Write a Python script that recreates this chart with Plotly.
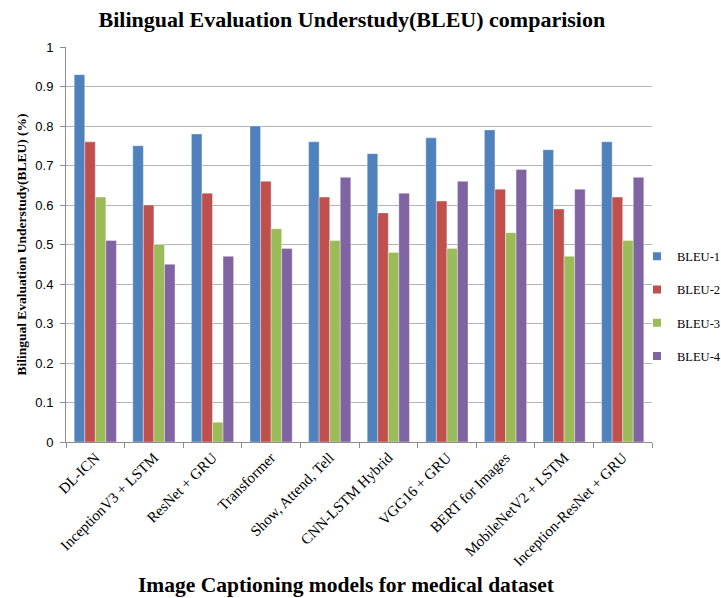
import plotly.graph_objects as go

models = [
    "DL-ICN", "InceptionV3 + LSTM", "ResNet + GRU", "Transformer",
    "Show, Attend, Tell", "CNN-LSTM Hybrid", "VGG16 + GRU",
    "BERT for Images", "MobileNetV2 + LSTM", "Inception-ResNet + GRU",
]
bleu1 = [0.93, 0.75, 0.78, 0.80, 0.76, 0.73, 0.77, 0.79, 0.74, 0.76]
bleu2 = [0.76, 0.60, 0.63, 0.66, 0.62, 0.58, 0.61, 0.64, 0.59, 0.62]
bleu3 = [0.62, 0.50, 0.05, 0.54, 0.51, 0.48, 0.49, 0.53, 0.47, 0.51]
bleu4 = [0.51, 0.45, 0.47, 0.49, 0.67, 0.63, 0.66, 0.69, 0.64, 0.67]
y_ticks = [0, 0.1, 0.2, 0.3, 0.4, 0.5, 0.6, 0.7, 0.8, 0.9, 1]

series = [
    ("BLEU-1", bleu1, "#4F81BD"),
    ("BLEU-2", bleu2, "#C0504D"),
    ("BLEU-3", bleu3, "#9BBB59"),
    ("BLEU-4", bleu4, "#8064A2"),
]

SERIF = "Liberation Serif, Times New Roman, serif"
SANS = "Liberation Sans, Arial, sans-serif"

fig = go.Figure()
for name, vals, color in series:
    fig.add_trace(go.Bar(
        name=name, x=models, y=vals, legendgroup=name, showlegend=False,
        marker=dict(color=color, line=dict(color="rgba(255,255,255,0.6)", width=0.6)),
    ))
    # compact square key for the legend
    fig.add_trace(go.Scatter(
        name=name, x=[None], y=[None], mode="markers", legendgroup=name,
        marker=dict(symbol="square", size=8, color=color),
    ))

fig.update_layout(
    width=721, height=598,
    paper_bgcolor="white", plot_bgcolor="white",
    margin=dict(l=66, r=69, t=47, b=156, autoexpand=False),
    barmode="group", bargap=0.28, bargroupgap=0,
    font=dict(family=SERIF, color="black"),
    title=dict(
        text="<b>Bilingual Evaluation Understudy(BLEU) comparision</b>",
        x=0.488, xanchor="center", y=0.968, yanchor="middle",
        font=dict(size=22, family=SERIF),
    ),
    legend=dict(
        x=0.9744, y=0.344, xanchor="left", yanchor="middle",
        font=dict(size=12.5, family=SERIF),
        traceorder="grouped", tracegroupgap=14,
        bgcolor="rgba(0,0,0,0)",
    ),
    showlegend=True,
    annotations=[dict(
        text="<b>Image Captioning models for medical dataset</b>",
        xref="paper", yref="paper", x=0.478, y=-0.362,
        xanchor="center", yanchor="middle", showarrow=False,
        font=dict(size=21.5, family=SERIF),
    )],
)

fig.update_xaxes(
    type="category", automargin=False,
    tickangle=-45,
    tickfont=dict(size=15, family=SERIF),
    ticks="outside", tickson="boundaries", ticklen=5, tickcolor="#8c8c8c",
    showline=True, linecolor="#8c8c8c", linewidth=1,
    showgrid=False,
)
fig.update_yaxes(
    automargin=False,
    range=[0, 1], tickvals=y_ticks, ticktext=[f"{v:g}" for v in y_ticks],
    tickfont=dict(size=13, family=SANS),
    ticks="outside", ticklen=5, tickcolor="#8c8c8c", ticklabelstandoff=4,
    showline=True, linecolor="#8c8c8c", linewidth=1,
    showgrid=True, gridcolor="#b4b4b4", gridwidth=1,
    zeroline=False,
    title=dict(text="<b>Bilingual Evaluation Understudy(BLEU) (%)</b>",
               font=dict(size=13.5, family=SERIF), standoff=5),
)

fig.write_html("out.html")
